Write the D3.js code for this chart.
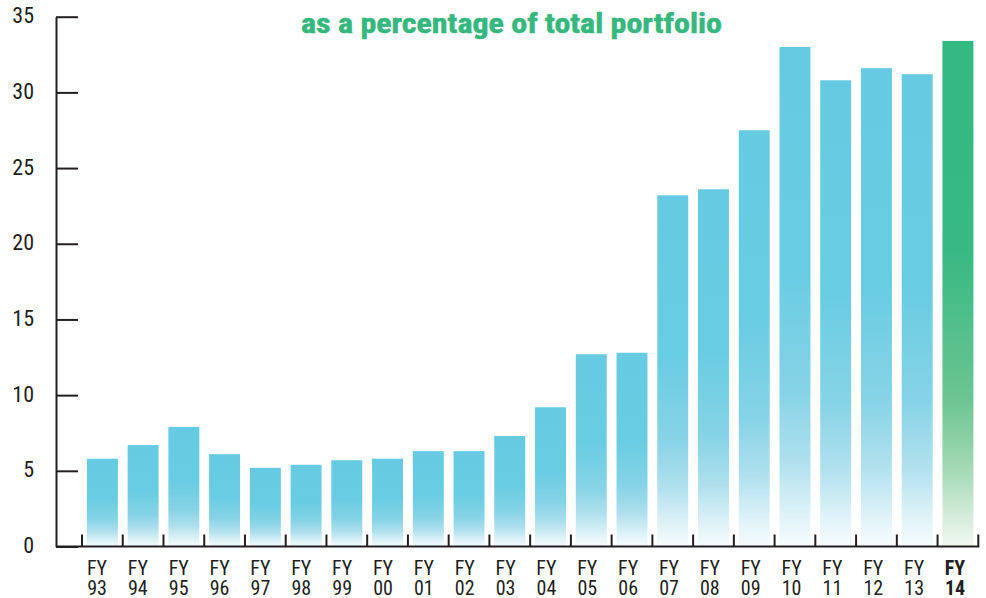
<!DOCTYPE html>
<html><head><meta charset="utf-8">
<script src="https://cdn.jsdelivr.net/npm/d3@7"></script>
<style>
html,body{margin:0;padding:0;background:#fff;}
svg{display:block;}
text{font-family:"Liberation Sans Narrow","Roboto Condensed","Arial Narrow",sans-serif;}
</style></head>
<body>
<svg id="chart" width="986" height="598"></svg>
<script>
const categories = ["93","94","95","96","97","98","99","00","01","02","03","04","05","06","07","08","09","10","11","12","13","14"];
const values = [5.8,6.7,7.9,6.1,5.2,5.4,5.7,5.8,6.3,6.3,7.3,9.2,12.7,12.8,23.2,23.6,27.5,33.0,30.8,31.6,31.2,33.4];
const yTicks = [0,5,10,15,20,25,30,35];
const highlight = "14";
const title = "as a percentage of total portfolio";

const svg = d3.select("#chart");
const y = d3.scaleLinear().domain([0,35]).range([546.5,16.7]);
const x = d3.scaleBand().domain(categories).range([82,978.3]).paddingInner(0.24).paddingOuter(0.12);
const xl = d3.scalePoint().domain(categories).range([97,955]);
const ink = "#231f20";

const defs = svg.append("defs");
function grad(id, stops){
  const g = defs.append("linearGradient").attr("id",id).attr("x1",0).attr("y1",0).attr("x2",0).attr("y2",1);
  stops.forEach(s=>g.append("stop").attr("offset",s[0]).attr("stop-color",s[1]));
}
grad("gBlue",[[0,"#66cbe2"],[0.45,"#68cce2"],[0.69,"#86d3e6"],[0.83,"#b0e0ee"],[0.94,"#e0f3f8"],[1,"#f7fcfd"]]);
grad("gGreen",[[0,"#34b882"],[0.42,"#38b983"],[0.71,"#6cc592"],[0.845,"#a3d9b4"],[0.94,"#d5ecda"],[1,"#f1f8f0"]]);

// title
svg.append("text").attr("x",301).attr("y",33).attr("text-anchor","start")
  .attr("font-size",28).attr("font-weight","bold").attr("fill","#35b77e")
  .attr("stroke","#35b77e").attr("stroke-width",0.5)
  .attr("textLength",421).attr("lengthAdjust","spacingAndGlyphs").text(title);

// bars
svg.append("g").selectAll("rect").data(categories).join("rect")
  .attr("x",d=>x(d)).attr("width",x.bandwidth())
  .attr("y",(d,i)=>y(values[i])).attr("height",(d,i)=>y(0)-y(values[i]))
  .attr("fill",d=>d===highlight?"url(#gGreen)":"url(#gBlue)");

// y axis
const ya = svg.append("g").attr("transform","translate(56,0)")
  .call(d3.axisLeft(y).tickValues(yTicks).tickSizeInner(-22).tickSizeOuter(0).tickPadding(22));
ya.select(".domain").attr("stroke",ink).attr("stroke-width",2);
ya.selectAll(".tick line").attr("stroke",ink).attr("stroke-width",2);
ya.selectAll(".tick text").attr("font-size",22).attr("fill",ink).attr("dy","0.28em")
  .attr("font-family",null);

// x axis
const gap = (x.step()-x.bandwidth())/2;
const bounds = categories.map(d=>x(d)-gap).concat([x.range()[1]]);
const xa = svg.append("g");
xa.append("line").attr("x1",56).attr("x2",x.range()[1]+1).attr("y1",y(0)).attr("y2",y(0))
  .attr("stroke",ink).attr("stroke-width",2);
xa.selectAll("line.t").data(bounds).join("line").attr("class","t")
  .attr("x1",d=>d).attr("x2",d=>d).attr("y1",y(0)-12).attr("y2",y(0))
  .attr("stroke",ink).attr("stroke-width",2);
const lab = xa.selectAll("g.lab").data(categories).join("g").attr("class","lab")
  .attr("transform",d=>`translate(${xl(d)},0)`);
lab.append("text").attr("text-anchor","middle").attr("font-size",20).attr("fill",ink)
  .attr("font-weight",d=>d===highlight?"bold":"normal").attr("y",575).text("FY");
lab.append("text").attr("text-anchor","middle").attr("font-size",20).attr("fill",ink)
  .attr("font-weight",d=>d===highlight?"bold":"normal").attr("y",595).text(d=>d);
</script>
</body></html>
